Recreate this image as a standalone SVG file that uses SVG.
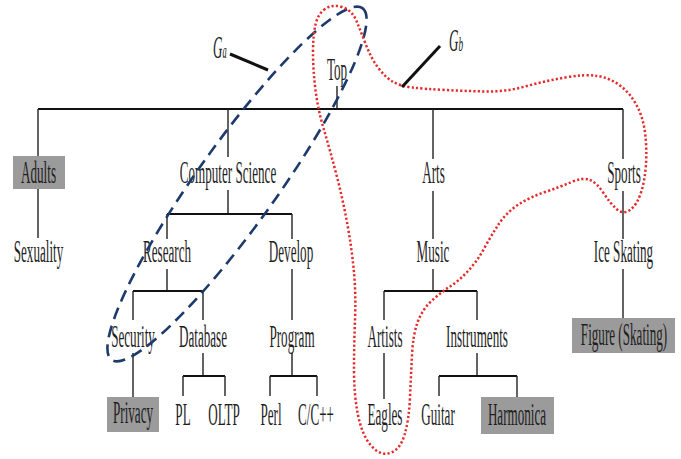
<svg xmlns="http://www.w3.org/2000/svg" width="681" height="459" viewBox="0 0 681 459">
  <style>
    .lbl { font-family: "Liberation Serif", "DejaVu Serif", serif; font-size: 32px; fill: #1e1e1e; text-anchor: middle; }
    .box { fill: #9b9b9b; }
    .edge { stroke: #222; stroke-width: 1.4; fill: none; }
    .bar { stroke: #111; stroke-width: 2; fill: none; }
    .ga { fill: none; stroke: #1d3a6b; stroke-width: 2.6; stroke-dasharray: 12 7; }
    .gb { fill: none; stroke: #e52a2d; stroke-width: 2.5; stroke-dasharray: 2.2 2.2; }
    .lead { stroke: #111; stroke-width: 3; }
    .gl { font-family: "Liberation Serif", "DejaVu Serif", serif; font-style: italic; font-size: 31px; fill: #222; }
  </style>
  <rect width="681" height="459" fill="#fff"/>

  <!-- tree connectors -->
  <g id="connectors">
    <path class="edge" d="M337 86V109"/>
    <path class="bar" d="M38 109H623"/>
    <!-- Adults branch -->
    <path class="edge" d="M38 109V156M38 189V238"/>
    <!-- Computer Science branch -->
    <path class="edge" d="M228 109V157M228 190V214"/>
    <path class="bar" d="M167 214H292"/>
    <path class="edge" d="M167 214V239M167 269V291"/>
    <path class="bar" d="M133 291H203"/>
    <path class="edge" d="M133 291V320M133 353V397"/>
    <path class="edge" d="M203 291V320M203 353V376"/>
    <path class="bar" d="M183 376H225"/>
    <path class="edge" d="M183 376V396M225 376V396"/>
    <path class="edge" d="M292 214V239M292 269V320M292 353V376"/>
    <path class="bar" d="M270 376H317"/>
    <path class="edge" d="M270 376V396M317 376V396"/>
    <!-- Arts branch -->
    <path class="edge" d="M433 109V159M433 191V239M433 269V291"/>
    <path class="bar" d="M384 291H477"/>
    <path class="edge" d="M384 291V320M384 353V399"/>
    <path class="edge" d="M477 291V320M477 353V376"/>
    <path class="bar" d="M439 376H517"/>
    <path class="edge" d="M439 376V396M517 376V397"/>
    <!-- Sports branch -->
    <path class="edge" d="M623 109V159M623 191V239M623 269V318"/>
  </g>

  <!-- nodes: labels are set in a narrow (horizontally scaled) serif -->
  <g id="n-top"><text class="lbl" transform="matrix(.41 0 0 1 337 80)">Top</text></g>
  <g id="n-adults"><rect class="box" x="13" y="156" width="52" height="33"/><text class="lbl" transform="matrix(.41 0 0 1 38.5 183)">Adults</text></g>
  <g id="n-sexuality"><text class="lbl" transform="matrix(.41 0 0 1 38.5 262)">Sexuality</text></g>
  <g id="n-cs"><text class="lbl" transform="matrix(.41 0 0 1 228 183)">Computer Science</text></g>
  <g id="n-research"><text class="lbl" transform="matrix(.41 0 0 1 167 262)">Research</text></g>
  <g id="n-develop"><text class="lbl" transform="matrix(.41 0 0 1 291 262)">Develop</text></g>
  <g id="n-security"><text class="lbl" transform="matrix(.41 0 0 1 133 347)">Security</text></g>
  <g id="n-database"><text class="lbl" transform="matrix(.41 0 0 1 203 347)">Database</text></g>
  <g id="n-program"><text class="lbl" transform="matrix(.41 0 0 1 292 347)">Program</text></g>
  <g id="n-privacy"><rect class="box" x="107" y="397" width="52" height="35"/><text class="lbl" transform="matrix(.41 0 0 1 133 423)">Privacy</text></g>
  <g id="n-pl"><text class="lbl" transform="matrix(.41 0 0 1 183 425)">PL</text></g>
  <g id="n-oltp"><text class="lbl" transform="matrix(.41 0 0 1 224 425)">OLTP</text></g>
  <g id="n-perl"><text class="lbl" transform="matrix(.41 0 0 1 271 425)">Perl</text></g>
  <g id="n-cpp"><text class="lbl" transform="matrix(.41 0 0 1 316 425)">C/C++</text></g>
  <g id="n-arts"><text class="lbl" transform="matrix(.41 0 0 1 433.5 183)">Arts</text></g>
  <g id="n-music"><text class="lbl" transform="matrix(.41 0 0 1 433 262)">Music</text></g>
  <g id="n-artists"><text class="lbl" transform="matrix(.41 0 0 1 385 347)">Artists</text></g>
  <g id="n-instruments"><text class="lbl" transform="matrix(.41 0 0 1 477 347)">Instruments</text></g>
  <g id="n-eagles"><text class="lbl" transform="matrix(.41 0 0 1 385 425)">Eagles</text></g>
  <g id="n-guitar"><text class="lbl" transform="matrix(.41 0 0 1 438 425)">Guitar</text></g>
  <g id="n-harmonica"><rect class="box" x="481" y="397" width="73" height="37"/><text class="lbl" transform="matrix(.41 0 0 1 517 425)">Harmonica</text></g>
  <g id="n-sports"><text class="lbl" transform="matrix(.41 0 0 1 624 183)">Sports</text></g>
  <g id="n-iceskating"><text class="lbl" transform="matrix(.41 0 0 1 623.5 262)">Ice Skating</text></g>
  <g id="n-figure"><rect class="box" x="572" y="318" width="103" height="35"/><text class="lbl" transform="matrix(.41 0 0 1 624 345)">Figure (Skating)</text></g>

  <!-- subgraph outlines -->
  <g id="ga">
    <ellipse class="ga" cx="237" cy="184" rx="216" ry="40" transform="rotate(-54.5 237 184)"/>
    <line class="lead" x1="230" y1="54" x2="268" y2="70"/>
    <text class="gl" transform="matrix(.42 0 0 1 213 58)">G<tspan font-size="20" dy="0">a</tspan></text>
  </g>
  <g id="gb">
    <path class="gb" d="M325 9Q318 14 315.5 24.5T313 52.5T315.5 90T324 130T336.5 175T347.5 225T354 272.5T355 320T354 370T358 415T371 445.5T390 453T404.5 435T410 397.5T412 355T417.5 322.5T431 301.5T450 286.5T469 270T485 247T499.5 223T518.5 204.5T545 192T571.5 182T590 180T603.5 193T616.5 209T630 210T641 192.5T646 164T645 132.5T636.5 105T620 85.5T597.5 76T565 77.5T525 86.5T485 91.5T445 90T412.5 87.5T392.5 81.5T378 67.5T366 45T356.5 21T342 7T325 9Z"/>
    <line class="lead" x1="440" y1="46" x2="402" y2="87"/>
    <text class="gl" transform="matrix(.42 0 0 1 449 51)">G<tspan font-size="22" dy="0">b</tspan></text>
  </g>
</svg>
